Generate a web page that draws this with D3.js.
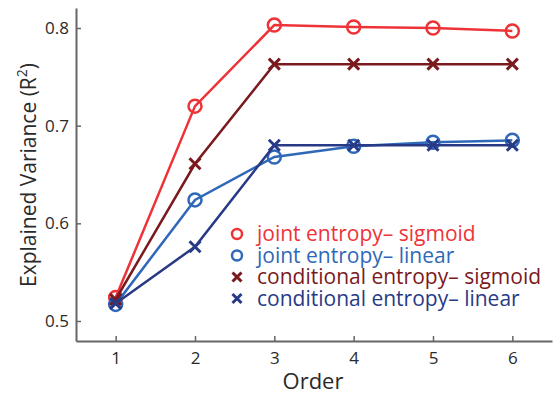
<!DOCTYPE html>
<html>
<head>
<meta charset="utf-8">
<script src="https://cdn.jsdelivr.net/npm/d3@7"></script>
<style>
  body { margin: 0; background: #fff; }
  svg text { font-family: "Open Sans", "Noto Sans", sans-serif; }
</style>
</head>
<body>
<div id="chart"></div>
<script>
// Donnees
var orders = [1, 2, 3, 4, 5, 6];
var jointSigmoid = [0.524, 0.720, 0.803, 0.801, 0.800, 0.797];
var jointLinear = [0.517, 0.624, 0.668, 0.679, 0.683, 0.685];
var condSigmoid = [0.522, 0.661, 0.763, 0.763, 0.763, 0.763];
var condLinear = [0.518, 0.576, 0.680, 0.680, 0.680, 0.680];
var yTicks = [0.5, 0.6, 0.7, 0.8];

var series = [
  {name: "joint entropy\u2013 sigmoid", values: jointSigmoid, color: "#ee3338", marker: "circle"},
  {name: "joint entropy\u2013 linear", values: jointLinear, color: "#2f68b8", marker: "circle"},
  {name: "conditional entropy\u2013 sigmoid", values: condSigmoid, color: "#7a1a1e", marker: "cross"},
  {name: "conditional entropy\u2013 linear", values: condLinear, color: "#283a86", marker: "cross"}
];

var width = 554, height = 394;
var margin = {top: 8, right: 2, bottom: 53, left: 76};

var svg = d3.select("#chart").append("svg")
    .attr("width", width)
    .attr("height", height);

var x = d3.scaleLinear().domain([0.5, 6.5]).range([margin.left, width - margin.right]);
var y = d3.scaleLinear().domain([0.4795, 0.8205]).range([height - margin.bottom, margin.top]);

// Axes
var axisColor = "#666";
var gx = svg.append("g")
    .attr("transform", "translate(0," + (height - margin.bottom) + ")")
    .call(d3.axisBottom(x).tickValues(orders).tickFormat(d3.format("d")).tickSizeInner(-5).tickSizeOuter(0).tickPadding(11));
var gy = svg.append("g")
    .attr("transform", "translate(" + margin.left + ",0)")
    .call(d3.axisLeft(y).tickValues(yTicks).tickFormat(d3.format(".1f")).tickSizeInner(-5).tickSizeOuter(0).tickPadding(7));

[gx, gy].forEach(function(g) {
  g.select(".domain").attr("stroke", axisColor).attr("stroke-width", 2);
  g.selectAll(".tick line").attr("stroke", axisColor).attr("stroke-width", 1.5);
  g.selectAll(".tick text").attr("fill", "#2a2a2a").style("font-size", "17px");
});

// Titres des axes
svg.append("text")
    .attr("x", 313).attr("y", 389)
    .attr("text-anchor", "middle")
    .attr("fill", "#2a2a2a")
    .style("font-size", "22px")
    .text("Order");

var yt = svg.append("text")
    .attr("transform", "translate(36," + 175 + ") rotate(-90)")
    .attr("text-anchor", "middle")
    .attr("fill", "#2a2a2a")
    .style("font-size", "21px");
yt.append("tspan").text("Explained Variance (R");
yt.append("tspan").attr("dy", -9).style("font-size", "14px").text("2");
yt.append("tspan").attr("dy", 9).text(")");

// Lignes et marqueurs
var line = d3.line()
    .x(function(d, i) { return x(orders[i]); })
    .y(function(d) { return y(d); });

function drawMarker(g, type, cx, cy, color, r) {
  if (type === "circle") {
    g.append("circle").attr("cx", cx).attr("cy", cy).attr("r", r)
      .attr("fill", "none").attr("stroke", color).attr("stroke-width", 2.5);
  } else {
    g.append("path")
      .attr("d", "M" + (cx - r) + "," + (cy - r) + "L" + (cx + r) + "," + (cy + r) +
                 "M" + (cx - r) + "," + (cy + r) + "L" + (cx + r) + "," + (cy - r))
      .attr("stroke", color).attr("stroke-width", 3);
  }
}

series.forEach(function(s) {
  var g = svg.append("g");
  g.append("path")
    .datum(s.values)
    .attr("fill", "none")
    .attr("stroke", s.color)
    .attr("stroke-width", 2.5)
    .attr("d", line);
  s.values.forEach(function(v, i) {
    drawMarker(g, s.marker, x(orders[i]), y(v), s.color, s.marker === "circle" ? 6.5 : 5.5);
  });
});

// Legende
var legend = svg.append("g");
series.forEach(function(s, i) {
  var ly = 234 + i * 21.5;
  drawMarker(legend, s.marker, 237, ly, s.color, s.marker === "circle" ? 5 : 4.5);
  legend.append("text")
    .attr("x", 257).attr("y", ly)
    .attr("dy", "0.35em")
    .attr("fill", s.color)
    .style("font-size", "21px")
    .text(s.name);
});
</script>
</body>
</html>
